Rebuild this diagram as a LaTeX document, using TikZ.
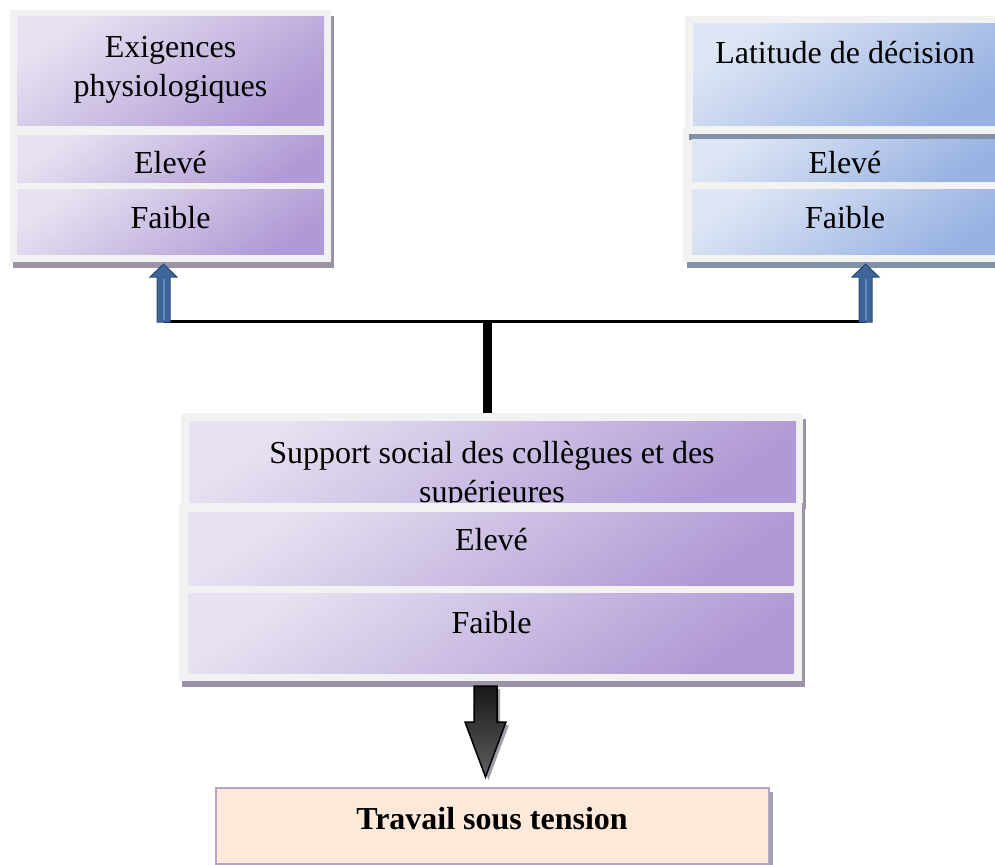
\documentclass[tikz,border=0pt]{standalone}
\usepackage{fontspec}
\setmainfont{Liberation Serif}
\usetikzlibrary{shadows}

\definecolor{panelgray}{RGB}{242,242,242}
\definecolor{lilaclight}{RGB}{231,225,241}
\definecolor{lilacdark}{RGB}{176,154,213}
\definecolor{skylight}{RGB}{222,230,245}
\definecolor{skydark}{RGB}{152,178,226}
\definecolor{lilacshadow}{RGB}{156,147,166}
\definecolor{skyshadow}{RGB}{128,145,168}
\definecolor{arrowblue}{RGB}{62,101,152}
\definecolor{arrowrim}{RGB}{44,74,118}
\definecolor{arrowshine}{RGB}{95,138,196}
\definecolor{peachfill}{RGB}{253,233,218}
\definecolor{peachrim}{RGB}{180,164,200}
\definecolor{boxshadow}{RGB}{160,160,168}
\definecolor{steeltop}{RGB}{20,20,20}
\definecolor{steelbottom}{RGB}{95,95,95}

\tikzset{
  panel/.style={fill=panelgray, inner sep=0pt, outer sep=0pt, anchor=north west},
  lilacpanel/.style={panel, general shadow={fill=lilacshadow, shadow xshift=3pt, shadow yshift=-6pt}},
  skypanel/.style={panel, general shadow={fill=skyshadow, shadow xshift=4pt, shadow yshift=-6pt}},
  lilaccell/.style={top color=lilaclight, bottom color=lilacdark, shading angle=35,
    inner sep=0pt, outer sep=0pt, anchor=north west},
  skycell/.style={top color=skylight, bottom color=skydark, shading angle=35,
    inner sep=0pt, outer sep=0pt, anchor=north west},
  celltext/.style={font=\fontsize{32}{39}\selectfont, inner sep=0pt, anchor=base, align=center},
  bluearrow/.style={fill=arrowblue, draw=arrowrim, line width=1pt, line join=miter},
  steelarrow/.style={top color=steeltop, bottom color=steelbottom, draw=black, line width=1.5pt,
    line join=miter, general shadow={fill=boxshadow, shadow xshift=3pt, shadow yshift=-3pt}},
}

\begin{document}
\begin{tikzpicture}[x=1pt,y=-1pt]
  \useasboundingbox (0,0) rectangle (995,864);
  \clip (0,0) rectangle (995,864);

  % Exigences physiologiques
  \node[lilacpanel, minimum width=321pt, minimum height=252pt] (exig) at (10,10) {};
  \node[lilaccell, minimum width=307pt, minimum height=109pt] (exighead) at (17,17) {};
  \node[lilaccell, minimum width=307pt, minimum height=47pt] (exighigh) at (17,135) {};
  \node[lilaccell, minimum width=307pt, minimum height=65pt] (exiglow) at (17,189) {};
  \node[celltext] (exigtxt) at (170.5,97) {Exigences\\physiologiques};
  \node[celltext] (exighightxt) at (170.5,173) {Elevé};
  \node[celltext] (exiglowtxt) at (170.5,228) {Faible};

  % Latitude de décision
  \node[skypanel, minimum width=321pt, minimum height=135pt] (latit) at (683,127) {};
  \node[skypanel, minimum width=319pt, minimum height=118pt] (latithead) at (685,16) {};
  \node[skycell, minimum width=305pt, minimum height=102pt] (latitcell) at (693,24) {};
  \node[skycell, minimum width=306pt, minimum height=42pt] (latithigh) at (692,139) {};
  \node[skycell, minimum width=306pt, minimum height=65pt] (latitlow) at (692,189) {};
  \node[celltext] (latittxt) at (845,64) {Latitude de décision};
  \node[celltext] (latithightxt) at (845,173) {Elevé};
  \node[celltext] (latitlowtxt) at (845,228) {Faible};

  % Support social
  \node[lilacpanel, minimum width=622pt, minimum height=90pt] (supphead) at (181,413) {};
  \node[lilaccell, minimum width=607pt, minimum height=82pt] (suppcell) at (189,421) {};
  \node[celltext] (supptxt) at (492,502) {Support social des collègues et des\\supérieures};
  \node[lilacpanel, minimum width=623pt, minimum height=178pt] (supp) at (179,503) {};
  \node[lilaccell, minimum width=606pt, minimum height=73pt] (supphigh) at (188,512) {};
  \node[lilaccell, minimum width=606pt, minimum height=80pt] (supplow) at (188,593) {};
  \node[celltext] (supphightxt) at (491.5,550) {Elevé};
  \node[celltext] (supplowtxt) at (491.5,633) {Faible};

  % Travail sous tension
  \node[draw=peachrim, fill=peachfill, line width=1.5pt, minimum width=553pt, minimum height=76pt,
    anchor=north west, general shadow={fill=boxshadow, shadow xshift=4pt, shadow yshift=-4pt}]
    (travail) at (215,787) {};
  \node[celltext, font=\fontsize{32}{39}\selectfont\bfseries] (travailtxt) at (492,829) {Travail sous tension};

  % Liaisons
  \coordinate (jl) at (163.5,321);
  \coordinate (jr) at (865.5,321);
  \coordinate (jm) at (487.5,321);
  \draw[line width=3pt] (jl) -- (jr);
  \draw[line width=9pt] (jm) -- (jm |- supphead.north);
  \foreach \j in {jl,jr}{
    \draw[bluearrow] (\j) ++(-6.5,1) -- ++(0,-45) -- ++(-7,0) -- ++(13.5,-13)
      -- ++(13.5,13) -- ++(-7,0) -- ++(0,45) -- cycle;
    \draw[arrowshine, line width=2pt] (\j) ++(0,-1) -- ++(0,-41);
  }

  \coordinate (ds) at (supp.south -| 485.5,0);
  \draw[steelarrow] (ds) ++(-11.5,5) -- ++(0,36) -- ++(-9,0) -- ++(20.5,55)
    -- ++(20.5,-55) -- ++(-9,0) -- ++(0,-36) -- cycle;
\end{tikzpicture}
\end{document}
